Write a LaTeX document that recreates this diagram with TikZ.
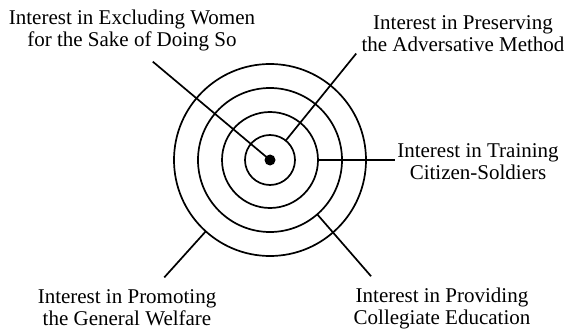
\documentclass[tikz,border=0pt]{standalone}
\usepackage{fontspec}
\setmainfont{Liberation Serif}
\usetikzlibrary{positioning}
\tikzset{
  ring/.style={draw, circle, line width=1.7pt, inner sep=0pt, outer sep=0pt},
  bullseye/.style={circle, fill, inner sep=0pt, outer sep=0pt, minimum size=11pt},
  lead/.style={line width=1.7pt},
  interest/.style={align=center, inner sep=0pt, font=\fontsize{21}{22}\selectfont},
}

\begin{document}
\begin{tikzpicture}[x=1pt,y=1pt]
  \useasboundingbox (-270,-169) rectangle (299,160);
  % the four rings
  \node[ring, minimum size=50pt] (r1) at (0,0) {};
  \node[ring, minimum size=96pt] (r2) at (0,0) {};
  \node[ring, minimum size=144pt] (r3) at (0,0) {};
  \node[ring, minimum size=192pt] (r4) at (0,0) {};
  \node[bullseye] (dot) at (0,0) {};
  % labels
  \node[interest] (excl) at (-138,130) {Interest in Excluding Women\\for the Sake of Doing So};
  \node[interest] (pres) at (193,126) {Interest in Preserving\\the Adversative Method};
  \node[interest] (train) at (208,-2) {Interest in Training\\Citizen-Soldiers};
  \node[interest] (prom) at (-143,-148) {Interest in Promoting\\the General Welfare};
  \node[interest] (prov) at (172,-148) {Interest in Providing\\Collegiate Education};
  % free ends of the leaders
  \coordinate (excl-end) at (140:153);
  \coordinate (pres-end) at (51:137);
  \coordinate (train-end) at (0:125);
  \coordinate (prov-end) at (-49:154);
  \coordinate (prom-end) at (-132:158);
  \draw[lead] (dot.center) -- (excl-end);
  \draw[lead] (r1.51) -- (pres-end);
  \draw[lead] (r2.0) -- (train-end);
  \draw[lead] (r3.-49) -- (prov-end);
  \draw[lead] (r4.-132) -- (prom-end);
\end{tikzpicture}
\end{document}
